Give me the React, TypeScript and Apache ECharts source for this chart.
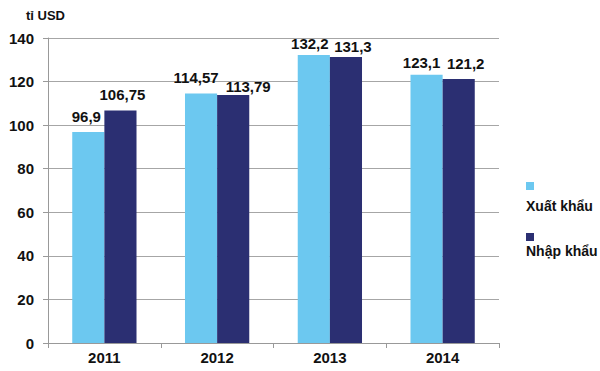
import React, { useEffect, useRef } from "react";
import * as echarts from "echarts";

const categories = ["2011", "2012", "2013", "2014"];
const exportValues = [96.9, 114.57, 132.2, 123.1];
const importValues = [106.75, 113.79, 131.3, 121.2];
const seriesNames = ["Xuất khẩu", "Nhập khẩu"];
const unitLabel = "tỉ USD";

// label nudges (as in the reference, labels are shifted to avoid overlap)
const exportLabelOffsets = [[-2, -3], [-5, -3], [-4, 1], [-5, 0]];
const importLabelOffsets = [[2, -3], [15, 4], [7, 2], [7, -3]];

const LIGHT = "#6cc8f0";
const DARK = "#2b2f72";
const FONT = "Liberation Sans, Arial, sans-serif";

export default function App() {
  const ref = useRef<HTMLDivElement>(null);
  useEffect(() => {
    if (!ref.current) return;
    const chart = echarts.init(ref.current, null, { renderer: "svg" });
    const fmt = (p: any) => String(p.value).replace(".", ",");
    const label = {
      show: true,
      position: "top",
      distance: 5,
      formatter: fmt,
      color: "#111",
      fontWeight: "bold",
      fontSize: 15,
      fontFamily: FONT,
    };
    const mk = (vals: number[], offs: number[][]) =>
      vals.map((v, i) => ({ value: v, label: { offset: offs[i] } }));
    chart.setOption({
      animation: false,
      textStyle: { fontFamily: FONT },
      grid: { left: 48, right: 101, top: 38, bottom: 28, containLabel: false },
      xAxis: {
        type: "category",
        data: categories,
        axisLine: { lineStyle: { color: "#999", width: 1 } },
        axisTick: { show: true, length: 5, lineStyle: { color: "#999" } },
        axisLabel: {
          color: "#111",
          fontWeight: "bold",
          fontSize: 15,
          fontFamily: FONT,
          margin: 7,
        },
      },
      yAxis: {
        type: "value",
        min: 0,
        max: 140,
        interval: 20,
        axisLine: { show: true, lineStyle: { color: "#999", width: 1 } },
        axisTick: { show: true, length: 5, lineStyle: { color: "#999" } },
        splitLine: { show: true, lineStyle: { color: "#a6a6a6", width: 1 } },
        axisLabel: {
          color: "#111",
          fontWeight: "bold",
          fontSize: 15,
          fontFamily: FONT,
          margin: 14,
        },
      },
      series: [
        {
          name: seriesNames[0],
          type: "bar",
          data: mk(exportValues, exportLabelOffsets),
          barGap: "0%",
          barCategoryGap: "43%",
          itemStyle: { color: LIGHT },
          label,
        },
        {
          name: seriesNames[1],
          type: "bar",
          data: mk(importValues, importLabelOffsets),
          itemStyle: { color: DARK },
          label,
        },
      ],
      graphic: [
        {
          type: "text",
          left: 26,
          top: 9,
          style: {
            text: unitLabel,
            fill: "#111",
            font: `bold 13px ${FONT}`,
          },
        },
        {
          type: "rect",
          shape: { x: 526, y: 182, width: 8, height: 8 },
          style: { fill: LIGHT },
        },
        {
          type: "text",
          x: 526,
          y: 199,
          style: {
            text: seriesNames[0],
            fill: "#111",
            font: `bold 14px ${FONT}`,
          },
        },
        {
          type: "rect",
          shape: { x: 526, y: 233, width: 8, height: 8 },
          style: { fill: DARK },
        },
        {
          type: "text",
          x: 526,
          y: 244,
          style: {
            text: seriesNames[1],
            fill: "#111",
            font: `bold 14px ${FONT}`,
          },
        },
      ],
    });
    return () => chart.dispose();
  }, []);
  return <div ref={ref} style={{ width: 600, height: 371, position: "absolute", left: 0, top: 0 }} />;
}
